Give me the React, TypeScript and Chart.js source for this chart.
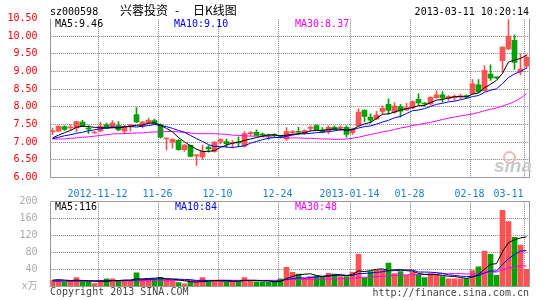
import React, { useEffect, useRef } from 'react';
import { Chart, registerables } from 'chart.js';

Chart.register(...registerables);

// ---------- data ----------
const dates: string[] = [
  '2012-10-31','2012-11-01','2012-11-02','2012-11-05','2012-11-06','2012-11-07','2012-11-08','2012-11-09','2012-11-12','2012-11-13',
  '2012-11-14','2012-11-15','2012-11-16','2012-11-19','2012-11-20','2012-11-21','2012-11-22','2012-11-23','2012-11-26','2012-11-27',
  '2012-11-28','2012-11-29','2012-11-30','2012-12-03','2012-12-04','2012-12-05','2012-12-06','2012-12-07','2012-12-10','2012-12-11',
  '2012-12-12','2012-12-13','2012-12-14','2012-12-17','2012-12-18','2012-12-19','2012-12-20','2012-12-21','2012-12-24','2012-12-25',
  '2012-12-26','2012-12-27','2012-12-28','2012-12-31','2013-01-04','2013-01-07','2013-01-08','2013-01-09','2013-01-10','2013-01-11',
  '2013-01-14','2013-01-15','2013-01-16','2013-01-17','2013-01-18','2013-01-21','2013-01-22','2013-01-23','2013-01-24','2013-01-25',
  '2013-01-28','2013-01-29','2013-01-30','2013-01-31','2013-02-01','2013-02-04','2013-02-05','2013-02-06','2013-02-07','2013-02-08',
  '2013-02-18','2013-02-19','2013-02-20','2013-02-21','2013-02-22','2013-02-25','2013-02-26','2013-02-27','2013-02-28','2013-03-11',
];

const opens: number[] = [
  7.29,7.31,7.44,7.40,7.40,7.57,7.39,7.26,7.32,7.49,
  7.42,7.47,7.31,7.46,7.78,7.47,7.54,7.61,7.50,7.09,
  7.00,7.05,6.79,6.91,6.61,6.58,6.86,6.74,7.02,7.02,
  6.97,7.00,6.89,7.24,7.28,7.22,7.20,7.21,7.18,7.09,
  7.27,7.31,7.25,7.39,7.47,7.35,7.31,7.42,7.40,7.42,
  7.27,7.47,7.90,7.71,7.66,7.87,8.07,7.85,8.01,7.91,
  7.97,8.21,8.10,8.08,8.26,8.34,8.23,8.26,8.28,8.31,
  8.37,8.62,8.46,8.93,8.83,9.31,9.64,9.88,8.99,9.15,
];
const highs: number[] = [
  7.40,7.47,7.46,7.49,7.59,7.62,7.47,7.30,7.56,7.54,
  7.61,7.58,7.48,7.50,7.98,7.59,7.68,7.65,7.52,7.12,
  7.10,7.07,6.93,6.92,6.65,6.92,6.90,7.02,7.10,7.09,
  7.05,7.15,7.30,7.30,7.35,7.26,7.22,7.24,7.20,7.41,
  7.33,7.42,7.35,7.46,7.49,7.41,7.46,7.46,7.46,7.46,
  7.40,7.94,7.92,7.80,7.87,8.03,8.23,8.12,8.07,8.10,
  8.17,8.37,8.13,8.29,8.46,8.43,8.32,8.34,8.36,8.34,
  8.77,8.77,9.17,9.19,8.84,9.70,10.47,10.04,9.50,9.47,
];
const lows: number[] = [
  7.21,7.30,7.33,7.33,7.28,7.44,7.25,7.25,7.30,7.40,
  7.40,7.32,7.24,7.31,7.55,7.40,7.52,7.50,7.11,6.78,
  6.83,6.77,6.74,6.58,6.34,6.51,6.72,6.72,6.95,6.86,
  6.83,6.87,6.86,7.19,7.17,7.14,7.08,7.15,7.12,7.05,
  7.22,7.22,7.22,7.31,7.33,7.26,7.24,7.34,7.33,7.14,
  7.22,7.45,7.58,7.54,7.64,7.80,7.80,7.82,7.71,7.89,
  7.95,8.05,8.02,8.05,8.24,8.13,8.18,8.18,8.23,8.25,
  8.35,8.40,8.44,8.75,8.80,8.98,9.62,9.06,8.90,9.08,
];
const closes: number[] = [
  7.31,7.45,7.36,7.42,7.58,7.45,7.37,7.28,7.44,7.41,
  7.54,7.35,7.45,7.48,7.57,7.57,7.62,7.52,7.14,7.11,
  7.08,6.79,6.92,6.60,6.63,6.74,6.81,7.00,7.07,6.96,
  6.99,6.98,7.24,7.26,7.19,7.20,7.17,7.19,7.16,7.30,
  7.29,7.28,7.33,7.41,7.35,7.29,7.42,7.36,7.42,7.22,
  7.38,7.85,7.73,7.62,7.77,7.96,7.90,8.02,7.88,7.97,
  8.15,8.11,8.08,8.27,8.34,8.25,8.29,8.28,8.30,8.29,
  8.65,8.42,9.03,8.81,8.82,9.69,10.00,9.26,9.07,9.40,
];

const ma5: number[] = [
  7.12,7.20,7.27,7.33,7.42,7.45,7.44,7.42,7.42,7.39,
  7.41,7.40,7.44,7.45,7.48,7.48,7.54,7.55,7.48,7.39,
  7.29,7.13,7.01,6.90,6.80,6.74,6.74,6.76,6.85,6.92,
  6.97,7.00,7.05,7.09,7.13,7.17,7.21,7.20,7.18,7.20,
  7.22,7.24,7.27,7.32,7.33,7.33,7.36,7.37,7.37,7.34,
  7.36,7.45,7.52,7.56,7.67,7.79,7.80,7.85,7.91,7.95,
  7.98,8.03,8.04,8.12,8.19,8.21,8.25,8.29,8.29,8.28,
  8.36,8.39,8.54,8.64,8.75,8.95,9.27,9.32,9.37,9.46,
];
const ma10: number[] = [
  7.10,7.14,7.18,7.21,7.25,7.28,7.32,7.35,7.38,7.41,
  7.43,7.42,7.43,7.44,7.43,7.45,7.47,7.50,7.47,7.44,
  7.39,7.33,7.28,7.19,7.10,7.02,6.93,6.88,6.88,6.86,
  6.85,6.87,6.90,6.97,7.02,7.07,7.11,7.13,7.13,7.17,
  7.20,7.23,7.24,7.25,7.27,7.28,7.30,7.32,7.35,7.34,
  7.35,7.40,7.44,7.46,7.51,7.57,7.62,7.69,7.73,7.81,
  7.89,7.91,7.95,8.01,8.07,8.10,8.14,8.16,8.20,8.24,
  8.29,8.32,8.41,8.47,8.51,8.66,8.83,8.93,9.00,9.10,
];
const ma30: number[] = [
  7.09,7.09,7.09,7.11,7.12,7.14,7.15,7.17,7.19,7.21,
  7.23,7.24,7.24,7.25,7.26,7.26,7.28,7.29,7.29,7.30,
  7.30,7.29,7.28,7.26,7.24,7.24,7.24,7.24,7.23,7.22,
  7.20,7.19,7.18,7.17,7.17,7.16,7.15,7.14,7.13,7.12,
  7.12,7.12,7.11,7.11,7.10,7.09,7.09,7.08,7.08,7.09,
  7.11,7.14,7.18,7.22,7.25,7.29,7.32,7.36,7.40,7.43,
  7.47,7.50,7.53,7.56,7.60,7.64,7.68,7.71,7.74,7.77,
  7.80,7.84,7.89,7.93,7.97,8.02,8.08,8.15,8.24,8.37,
];

// volume in 万 (x10k)
const volumes: number[] = [
  14,15,10,14,21,11,11,7,14,18,
  18,12,14,14,32,17,17,17,21,17,
  14,9,6,11,12,21,11,14,14,11,
  14,11,21,14,11,10,10,11,18,45,
  33,29,19,23,25,23,31,29,23,23,
  33,75,20,35,38,38,55,30,35,27,
  33,27,21,30,28,23,18,18,18,18,
  37,46,83,75,26,178,152,115,97,40,
];
const volMa5: number[] = [
  15,16,15,14,14.8,14.2,13.4,12.8,12.8,12.2,
  13.6,13.8,15.2,15.2,18,17.8,18.8,19.4,20.8,17.8,
  17.2,15.6,13.4,11.4,10.4,11.8,12.2,13.8,14.4,14.2,
  12.8,12.8,14.2,14.2,14.2,13.4,13.2,11.2,12,18.8,
  23.4,27.2,28.8,29.8,25.8,23.8,24.2,26.2,26.2,25.8,
  27.8,36.6,34.8,37.2,40.2,41.2,37.2,39.2,39.2,37,
  36,30.4,28.6,27.6,27.8,25.8,24,23.4,21,19,
  21.8,27.4,40.4,51.8,53.4,81.6,102.8,109.2,113.6,116,
];
const volMa10: number[] = [
  13,13,13,13,13,13,13,13,13,13.5,
  13.9,13.6,14,14,15.1,15.7,16.3,17.3,18,17.9,
  17.5,17.2,16.4,16.1,14.1,14.5,13.9,13.6,12.9,12.3,
  12.3,12.5,14,14.3,14.2,13.1,13,12.7,13.1,16.5,
  18.4,20.2,20,20.9,22.3,23.6,25.7,27.5,28,25.8,
  25.8,30.4,30.5,31.7,33,34.5,36.9,37,38.2,38.6,
  38.6,33.8,33.9,33.4,32.4,30.9,27.2,26,24.3,23.4,
  23.8,25.7,31.9,36.4,36.2,51.7,65.1,74.8,82.7,84,
];
const volMa30: number[] = [
  12.5,12.5,12.6,12.6,12.7,12.7,12.8,12.8,12.9,12.9,
  13,13,13.1,13.1,13.2,13.3,13.4,13.5,13.6,13.7,
  13.8,13.9,14,14.1,14.2,14.3,14.4,14.5,14.5,14.6,
  14.6,14.4,14.8,14.8,14.5,14.4,14.4,14.5,14.7,15.6,
  16.1,16.6,16.8,17.1,16.9,17.1,17.5,17.9,18,18.2,
  18.8,21,21.5,22.3,23.2,23.7,25.2,25.7,26.4,27,
  27.6,28.1,28.1,28.7,29.2,29.7,29.9,30.2,30.2,29.3,
  29.4,30,32.1,33.8,33.9,39,43,45.9,48.4,48,
];

const xTickDates: string[] = ['2012-11-12','2012-11-26','2012-12-10','2012-12-24','2013-01-14','2013-01-28','2013-02-18','2013-03-11'];
const xTickTexts: string[] = ['2012-11-12','11-26','12-10','12-24','2013-01-14','01-28','02-18','03-11'];

const stockCode = 'sz000598';
const stockTitle = '兴蓉投资';
const chartKind = '日K线图';
const stamp = '2013-03-11 10:20:14';

// ---------- styles ----------
const RED = '#ff5252';
const GREEN = '#00a200';
const GRID_DOT = '#999999';
const GRID_GAP = '#e2e2e2';
const FRAME = '#999999';
const MONO = "'DejaVu Sans Mono', 'Noto Sans CJK SC', monospace";

const candleColors = closes.map((c, i) => (c >= opens[i] ? RED : GREEN));
const isTickIdx = (i: number) => xTickDates.indexOf(dates[i]) >= 0;
const tickTextAt = (i: number) => {
  const k = xTickDates.indexOf(dates[i]);
  if (k < 0) return '';
  return k === xTickTexts.length - 1 ? xTickTexts[k] + '     ' : xTickTexts[k];
};

// Dotted grid under the data: vertical lines only at labelled dates.
const gridPlugin = {
  id: 'dotgrid',
  beforeDatasetsDraw(chart: any) {
    const { left, right, top, bottom } = chart.chartArea;
    const ctx: CanvasRenderingContext2D = chart.ctx;
    const sx = chart.scales.x;
    const sy = chart.scales.y;
    const x0 = Math.ceil(left) + 1;
    const x1 = Math.floor(right);
    const y0 = Math.ceil(top);
    const y1 = Math.floor(bottom);
    const vx: number[] = [];
    dates.forEach((_d, i) => {
      if (isTickIdx(i)) vx.push(Math.floor(sx.getPixelForValue(i) - 2));
    });
    const hy: number[] = (sy.ticks || [])
      .map((t: any) => t.value)
      .filter((v: number) => v > sy.min && v < sy.max)
      .map((v: number) => Math.floor(sy.getPixelForValue(v)));
    ctx.save();
    ctx.fillStyle = GRID_GAP;
    vx.forEach((x) => ctx.fillRect(x, y0, 1, y1 - y0));
    hy.forEach((y) => ctx.fillRect(x0, y, x1 - x0, 1));
    ctx.fillStyle = GRID_DOT;
    vx.forEach((x) => {
      for (let y = y0; y < y1; y += 2) ctx.fillRect(x, y, 1, 1);
    });
    hy.forEach((y) => {
      for (let x = x0; x < x1; x += 2) ctx.fillRect(x, y, 1, 1);
    });
    ctx.restore();
  },
};

const framePlugin = (withTop: boolean) => ({
  id: 'frame',
  afterDraw(chart: any) {
    const { left, right, top, bottom } = chart.chartArea;
    const ctx = chart.ctx;
    const l = Math.ceil(left) + 0.5;
    const r = Math.floor(right) + 0.5;
    const b = Math.floor(bottom) + 0.5;
    const t = Math.floor(top) + 0.5;
    ctx.save();
    ctx.strokeStyle = FRAME;
    ctx.lineWidth = 1;
    ctx.beginPath();
    ctx.moveTo(l, withTop ? t : top);
    ctx.lineTo(l, b);
    ctx.lineTo(r, b);
    ctx.lineTo(r, withTop ? t : top);
    if (withTop) ctx.lineTo(l, t);
    ctx.stroke();
    ctx.restore();
  },
});

const lineDs = (label: string, data: number[], color: string) => ({
  type: 'line' as const,
  label,
  data,
  borderColor: color,
  borderWidth: 1,
  pointRadius: 0,
  tension: 0,
  fill: false,
  order: 0,
});

const xScale = (showTicks: boolean, height: number) => ({
  type: 'category' as const,
  offset: true,
  grid: { display: false },
  border: { display: false },
  ticks: {
    display: showTicks,
    autoSkip: false,
    maxRotation: 0,
    minRotation: 0,
    padding: 3,
    labelOffset: -3,
    color: '#1a7fcc',
    font: { family: MONO, size: 10 },
    callback: (_v: any, i: number) => tickTextAt(i),
  },
  afterFit: (s: any) => {
    s.height = height;
    s.paddingLeft = 0;
    s.paddingRight = 0;
  },
});

export default function App() {
  const priceRef = useRef<HTMLCanvasElement | null>(null);
  const volRef = useRef<HTMLCanvasElement | null>(null);

  useEffect(() => {
    const pc = new Chart(priceRef.current as HTMLCanvasElement, {
      type: 'bar',
      data: {
        labels: dates,
        datasets: [
          lineDs('MA5', ma5, '#000000'),
          lineDs('MA10', ma10, '#0000ff'),
          lineDs('MA30', ma30, '#ff00ff'),
          {
            type: 'bar',
            label: 'body',
            data: opens.map((o, i) => [o, closes[i]]) as any,
            backgroundColor: candleColors,
            barThickness: 5,
            minBarLength: 1,
            grouped: false,
            order: 1,
          },
          {
            type: 'bar',
            label: 'wick',
            data: lows.map((l, i) => [l, highs[i]]) as any,
            backgroundColor: candleColors,
            barThickness: 1,
            grouped: false,
            order: 2,
          },
        ] as any,
      },
      options: {
        responsive: false,
        animation: false,
        devicePixelRatio: 1,
        events: [],
        layout: { padding: { top: 18.5, right: 15.5, left: 0, bottom: 0 } },
        plugins: { legend: { display: false }, tooltip: { enabled: false } },
        scales: {
          x: xScale(true, 22.5) as any,
          y: {
            min: 6,
            max: 10.5,
            grid: { display: false },
            border: { display: false },
            ticks: {
              stepSize: 0.5,
              padding: 4,
              color: '#ff0000',
              font: { family: MONO, size: 10 },
              callback: (v: any) => Number(v).toFixed(2),
            },
            afterFit: (s: any) => {
              s.width = 49.5;
            },
          } as any,
        },
      },
      plugins: [gridPlugin, framePlugin(false)],
    });

    const vc = new Chart(volRef.current as HTMLCanvasElement, {
      type: 'bar',
      data: {
        labels: dates,
        datasets: [
          lineDs('MA5', volMa5, '#000000'),
          lineDs('MA10', volMa10, '#0000ff'),
          lineDs('MA30', volMa30, '#ff00ff'),
          {
            type: 'bar',
            label: 'volume',
            data: volumes,
            backgroundColor: candleColors,
            barThickness: 5,
            grouped: false,
            order: 1,
          },
        ] as any,
      },
      options: {
        responsive: false,
        animation: false,
        devicePixelRatio: 1,
        events: [],
        layout: { padding: { top: 11, right: 15.5, left: 0, bottom: 0 } },
        plugins: { legend: { display: false }, tooltip: { enabled: false } },
        scales: {
          x: xScale(false, 13.5) as any,
          y: {
            min: 0,
            max: 200,
            grid: { display: false },
            border: { display: false },
            ticks: {
              stepSize: 40,
              padding: 4,
              color: '#aaaaaa',
              font: { family: MONO, size: 10 },
              callback: (v: any) => (Number(v) === 0 ? 'x万' : String(v)),
            },
            afterFit: (s: any) => {
              s.width = 49.5;
            },
          } as any,
        },
      },
      plugins: [gridPlugin, framePlugin(true)],
    });

    return () => {
      pc.destroy();
      vc.destroy();
    };
  }, []);

  const monoText: React.CSSProperties = {
    position: 'absolute',
    fontFamily: MONO,
    fontSize: 10,
    lineHeight: '10px',
    whiteSpace: 'pre',
  };
  const cjkText: React.CSSProperties = {
    position: 'absolute',
    top: 4,
    fontFamily: "'Noto Sans CJK SC', sans-serif",
    fontSize: 12,
    lineHeight: '12px',
    color: '#000',
    whiteSpace: 'pre',
  };
  const last = (a: number[]) => a[a.length - 1];

  return (
    <div
      style={{
        position: 'fixed',
        left: 0,
        top: 0,
        width: 545,
        height: 300,
        background: '#ffffff',
        overflow: 'hidden',
      }}
    >
      <canvas
        ref={priceRef}
        width={545}
        height={200}
        style={{ position: 'absolute', left: 0, top: 0, width: 545, height: 200 }}
      />
      <canvas
        ref={volRef}
        width={545}
        height={110}
        style={{ position: 'absolute', left: 0, top: 190, width: 545, height: 110 }}
      />

      {/* header */}
      <span style={{ ...monoText, left: 50, top: 6.5, color: '#000' }}>{stockCode}</span>
      <span style={{ ...cjkText, left: 120 }}>{stockTitle}</span>
      <span style={{ ...cjkText, left: 175 }}>-</span>
      <span style={{ ...cjkText, left: 193 }}>{chartKind}</span>
      <span style={{ ...monoText, right: 16, top: 6.5, color: '#000' }}>{stamp}</span>

      {/* price MA labels */}
      <span style={{ ...monoText, left: 55, top: 19, color: '#000' }}>{'MA5:' + last(ma5).toFixed(2)}</span>
      <span style={{ ...monoText, left: 174, top: 19, color: '#0000ff' }}>{'MA10:' + last(ma10).toFixed(2)}</span>
      <span style={{ ...monoText, left: 295, top: 19, color: '#ff00ff' }}>{'MA30:' + last(ma30).toFixed(2)}</span>

      {/* volume MA labels */}
      <span style={{ ...monoText, left: 55, top: 201.5, color: '#000' }}>{'MA5:' + Math.round(last(volMa5))}</span>
      <span style={{ ...monoText, left: 175, top: 201.5, color: '#0000ff' }}>{'MA10:' + Math.round(last(volMa10))}</span>
      <span style={{ ...monoText, left: 295, top: 201.5, color: '#ff00ff' }}>{'MA30:' + Math.round(last(volMa30))}</span>

      {/* watermark */}
      <div
        style={{
          position: 'absolute',
          left: 503,
          top: 151,
          width: 9,
          height: 9,
          borderRadius: '50%',
          border: '2px solid #f4b8b8',
        }}
      />
      <span
        style={{
          position: 'absolute',
          left: 494,
          top: 156,
          fontFamily: "'Liberation Sans', Arial, sans-serif",
          fontSize: 19,
          lineHeight: '19px',
          fontStyle: 'italic',
          fontWeight: 'bold',
          color: '#c8c8c8',
        }}
      >
        sina
      </span>

      {/* footer */}
      <span style={{ ...monoText, left: 50, top: 287, color: '#444' }}>Copyright 2013 SINA.COM</span>
      <span style={{ ...monoText, right: 16, top: 288, color: '#444' }}>http://finance.sina.com.cn</span>
    </div>
  );
}
